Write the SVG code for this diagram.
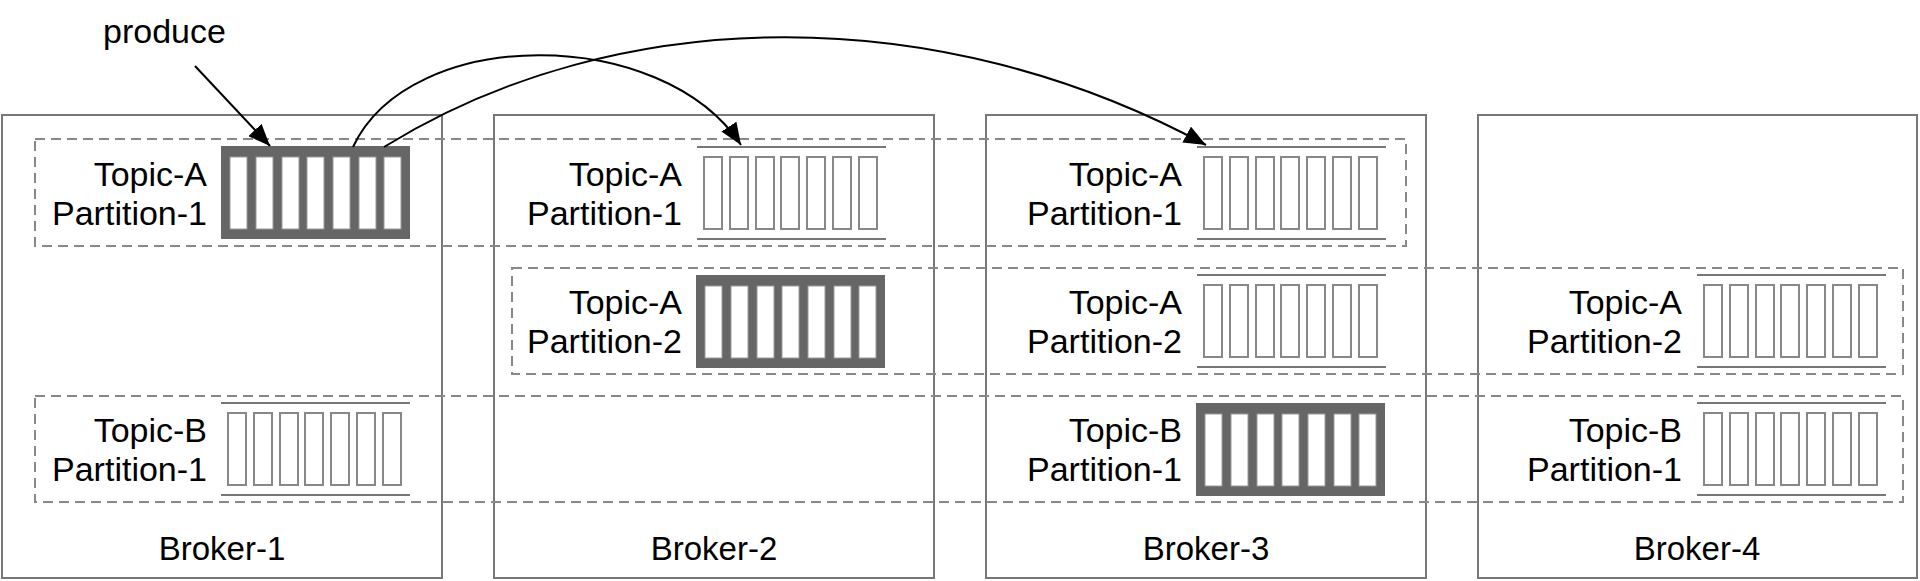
<svg xmlns="http://www.w3.org/2000/svg" width="1920" height="581" viewBox="0 0 1920 581">
<style>
text{font-family:"Liberation Sans",Arial,sans-serif;fill:#000}
.lbl{font-size:34px;text-anchor:end}
.bl{font-size:33px;text-anchor:middle}
.broker{fill:none;stroke:#777;stroke-width:2}
.grp{fill:none;stroke:#888;stroke-width:2;stroke-dasharray:10 6}
.fl{stroke:#777;stroke-width:2}
.fc{fill:#fff;stroke:#888;stroke-width:2}
.ld{fill:#666;stroke:#666;stroke-width:2}
.lc{fill:#fff;stroke:#999;stroke-width:1}
.conn{fill:none;stroke:#000;stroke-width:2}
</style>
<defs>
<marker id="ah" markerUnits="userSpaceOnUse" markerWidth="24" markerHeight="18" refX="22" refY="9" orient="auto"><path d="M0,0 L22,9 L0,18 Z" fill="#000"/></marker>
<g id="fcells">
<line class="fl" x1="0" y1="0" x2="189" y2="0"/><line class="fl" x1="0" y1="92" x2="189" y2="92"/>
<rect class="fc" x="7" y="10" width="18" height="72"/><rect class="fc" x="33" y="10" width="18" height="72"/><rect class="fc" x="59" y="10" width="18" height="72"/><rect class="fc" x="84" y="10" width="18" height="72"/><rect class="fc" x="110" y="10" width="18" height="72"/><rect class="fc" x="136" y="10" width="18" height="72"/><rect class="fc" x="162" y="10" width="18" height="72"/>
</g>
<g id="lcells">
<rect class="ld" x="0" y="0" width="187" height="91"/>
<rect class="lc" x="8" y="10" width="17" height="72"/><rect class="lc" x="34" y="10" width="17" height="72"/><rect class="lc" x="60" y="10" width="17" height="72"/><rect class="lc" x="85" y="10" width="17" height="72"/><rect class="lc" x="111" y="10" width="17" height="72"/><rect class="lc" x="137" y="10" width="17" height="72"/><rect class="lc" x="162" y="10" width="17" height="72"/>
</g>
</defs>
<g id="broker1"><rect class="broker" x="2" y="115" width="440" height="463"/><text class="bl" x="222" y="560">Broker-1</text></g>
<g id="broker2"><rect class="broker" x="494" y="115" width="440" height="463"/><text class="bl" x="714" y="560">Broker-2</text></g>
<g id="broker3"><rect class="broker" x="986" y="115" width="440" height="463"/><text class="bl" x="1206" y="560">Broker-3</text></g>
<g id="broker4"><rect class="broker" x="1478" y="115" width="439" height="463"/><text class="bl" x="1697" y="560">Broker-4</text></g>
<g id="groups">
<rect class="grp" x="35" y="139" width="1371" height="107"/>
<rect class="grp" x="512" y="268" width="1391" height="106"/>
<rect class="grp" x="35" y="396" width="1868" height="106"/>
</g>
<g id="b1-a1"><use href="#lcells" x="222" y="147"/><text class="lbl" x="207" y="186">Topic-A</text><text class="lbl" x="207" y="225">Partition-1</text></g>
<g id="b1-b1"><use href="#fcells" x="221" y="403"/><text class="lbl" x="207" y="442">Topic-B</text><text class="lbl" x="207" y="481">Partition-1</text></g>
<g id="b2-a1"><use href="#fcells" x="697" y="147"/><text class="lbl" x="682" y="186">Topic-A</text><text class="lbl" x="682" y="225">Partition-1</text></g>
<g id="b2-a2"><use href="#lcells" x="697" y="276"/><text class="lbl" x="682" y="314">Topic-A</text><text class="lbl" x="682" y="353">Partition-2</text></g>
<g id="b3-a1"><use href="#fcells" x="1197" y="147"/><text class="lbl" x="1182" y="186">Topic-A</text><text class="lbl" x="1182" y="225">Partition-1</text></g>
<g id="b3-a2"><use href="#fcells" x="1197" y="275"/><text class="lbl" x="1182" y="314">Topic-A</text><text class="lbl" x="1182" y="353">Partition-2</text></g>
<g id="b3-b1"><use href="#lcells" x="1197" y="404"/><text class="lbl" x="1182" y="442">Topic-B</text><text class="lbl" x="1182" y="481">Partition-1</text></g>
<g id="b4-a2"><use href="#fcells" x="1697" y="275"/><text class="lbl" x="1682" y="314">Topic-A</text><text class="lbl" x="1682" y="353">Partition-2</text></g>
<g id="b4-b1"><use href="#fcells" x="1697" y="403"/><text class="lbl" x="1682" y="442">Topic-B</text><text class="lbl" x="1682" y="481">Partition-1</text></g>
<g id="produce"><text x="103" y="43" style="font-size:34px">produce</text></g>
<g id="connectors">
<path class="conn" d="M195,66 L270,146" marker-end="url(#ah)"/>
<path class="conn" d="M353,147 C410,25 662,25 741,145" marker-end="url(#ah)"/>
<path class="conn" d="M384,147 C620,1 940,1 1206,145" marker-end="url(#ah)"/>
</g>
</svg>
